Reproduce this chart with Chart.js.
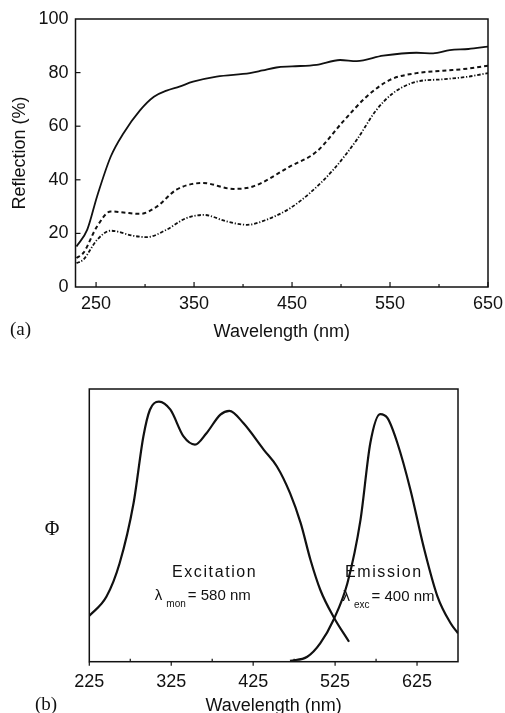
<!DOCTYPE html>
<html>
<head>
<meta charset="utf-8">
<script src="https://cdn.jsdelivr.net/npm/chart.js@4.4.1/dist/chart.umd.min.js"></script>
<style>
  html, body { margin: 0; padding: 0; background: #fff; width: 505px; height: 713px; overflow: hidden; }
  #wrapA { position: absolute; left: 0; top: 0; width: 505px; height: 345px; }
  #wrapB { position: absolute; left: 0; top: 370px; width: 505px; height: 360px; }
</style>
</head>
<body>
<div id="wrapA"><canvas id="chartA" width="505" height="345"></canvas></div>
<div id="wrapB"><canvas id="chartB" width="505" height="360"></canvas></div>
<script>
// ── Data (a): reflection spectra ─────────────────────────────
const solidNm  = [230, 241, 251, 265, 278, 295, 309, 322, 335, 349, 373, 407, 420, 434, 450, 475, 499, 516, 543, 577, 594, 611, 630, 650];
const solidR   = [15.1, 21.4, 33.8, 48.7, 57.4, 66, 71, 73.3, 74.8, 76.6, 78.5, 79.8, 80.8, 81.9, 82.3, 82.9, 84.7, 84.3, 86.3, 87.4, 87.2, 88.4, 88.8, 89.7];

const dashNm   = [230, 237, 251, 265, 278, 295, 312, 332, 359, 390, 410, 448, 475, 502, 526, 550, 577, 604, 630, 650];
const dashR    = [10.8, 12.7, 22.6, 28.2, 27.8, 27.3, 30, 36.3, 38.8, 36.6, 37.5, 45, 50.5, 61.7, 71, 77.3, 79.8, 80.7, 81.5, 82.6];

const dotNm    = [230, 237, 251, 265, 288, 302, 322, 342, 360, 383, 404, 424, 448, 468, 492, 516, 536, 553, 577, 604, 630, 650];
const dotR     = [8.9, 10.2, 17.6, 21, 19.1, 18.6, 21.4, 25.7, 26.9, 24.5, 23.2, 25.1, 29.4, 35, 43.7, 54.9, 66, 72.3, 76.6, 77.5, 78.5, 79.8];

const xTicksA      = [250, 350, 450, 550, 650];
const xMinorTicksA = [300, 400, 500, 600];
const yTicksA      = [0, 20, 40, 60, 80, 100];

// ── Data (b): excitation / emission ──────────────────────────
const excNm  = [225, 246, 262, 279, 291, 299, 310, 324, 340, 354, 368, 385, 396, 413, 438, 454, 470, 483, 495, 507, 523, 542];
const excPhi = [16.8, 23.9, 36.1, 58.1, 82.6, 92.4, 95.4, 92.4, 82.6, 79.6, 83.8, 90.6, 92, 87.5, 77.7, 71.6, 61.8, 50.8, 37.3, 26.3, 16.5, 7.3];

const emNm   = [470, 491, 507, 523, 540, 556, 568, 580, 589, 601, 617, 633, 650, 666, 675];
const emPhi  = [0.3, 1.8, 6.8, 15.3, 28.8, 52, 80.2, 90.8, 89.3, 80.2, 63, 42.2, 23.9, 14.1, 10.4];

const xTicksB      = [225, 325, 425, 525, 625];
const xMinorTicksB = [275, 375, 475, 575];

const pts = (xs, ys) => xs.map((x, i) => ({ x: x, y: ys[i] }));

const SANS  = '"Liberation Sans", Arial, sans-serif';
const SERIF = '"Liberation Serif", "Times New Roman", serif';
const INK   = '#111';

// ── Plugin: box frame + tick marks + loose text ──────────────
const frameTicks = {
  id: 'frameTicks',
  afterDatasetsDraw(chart, args, o) {
    const { ctx, chartArea: a, scales: { x, y } } = chart;
    ctx.save();
    ctx.strokeStyle = INK;
    ctx.lineWidth = 1.5;
    ctx.strokeRect(a.left, a.top, a.right - a.left, a.bottom - a.top);
    ctx.lineWidth = 1.2;
    const seg = (x1, y1, x2, y2) => { ctx.beginPath(); ctx.moveTo(x1, y1); ctx.lineTo(x2, y2); ctx.stroke(); };
    (o.xMajor || []).forEach(v => { const p = x.getPixelForValue(v); seg(p, a.bottom, p, a.bottom + o.xMajorLen); });
    (o.xMinor || []).forEach(v => { const p = x.getPixelForValue(v); seg(p, a.bottom, p, a.bottom + o.xMinorLen); });
    (o.yMajor || []).forEach(v => { const p = y.getPixelForValue(v); seg(a.left, p, a.left + 5, p); });
    ctx.restore();
  },
  afterDraw(chart, args, o) {
    const ctx = chart.ctx;
    ctx.save();
    ctx.fillStyle = INK;
    ctx.textBaseline = 'middle';
    (o.texts || []).forEach(t => {
      ctx.font = t.font;
      ctx.textAlign = t.align || 'left';
      ctx.fillText(t.text, t.x, t.y);
    });
    ctx.restore();
  }
};

// labels inside panel (b)
const lambdaLabels = {
  id: 'lambdaLabels',
  afterDraw(chart) {
    const { ctx, scales: { x, y } } = chart;
    ctx.save();
    ctx.fillStyle = INK;
    ctx.textBaseline = 'alphabetic';

    ctx.font = '16px ' + SANS;
    ctx.letterSpacing = '1.6px';
    ctx.textAlign = 'center';
    ctx.fillText('Excitation', x.getPixelForValue(378), y.getPixelForValue(31));
    ctx.textAlign = 'left';
    ctx.fillText('Emission', x.getPixelForValue(537), y.getPixelForValue(31));
    ctx.letterSpacing = '0px';

    const row = (nm, val, sub, rest) => {
      let px = x.getPixelForValue(nm);
      const py = y.getPixelForValue(val);
      ctx.font = '15px ' + SANS;
      ctx.fillText('λ', px, py);
      px += ctx.measureText('λ').width + 4;
      ctx.font = '10px ' + SANS;
      ctx.fillText(sub, px, py + 7);
      px += ctx.measureText(sub).width + 2;
      ctx.font = '15px ' + SANS;
      ctx.fillText(rest, px, py);
    };
    row(305, 22.5, 'mon', '= 580 nm');
    row(534, 22.2, 'exc', '= 400 nm');
    ctx.restore();
  }
};

Chart.defaults.color = INK;
Chart.defaults.font.family = SANS;

// ── Chart (a) ────────────────────────────────────────────────
new Chart(document.getElementById('chartA'), {
  type: 'line',
  data: {
    datasets: [
      { data: pts(solidNm, solidR), borderColor: INK, borderWidth: 1.8, pointRadius: 0, cubicInterpolationMode: 'monotone' },
      { data: pts(dashNm, dashR), borderColor: INK, borderWidth: 2, borderDash: [4, 3], pointRadius: 0, cubicInterpolationMode: 'monotone' },
      { data: pts(dotNm, dotR), borderColor: INK, borderWidth: 1.8, borderDash: [3.5, 1.8, 1.2, 1.8], pointRadius: 0, cubicInterpolationMode: 'monotone' }
    ]
  },
  options: {
    responsive: false,
    animation: false,
    devicePixelRatio: 1,
    layout: { padding: { top: 19, right: 17, left: 0, bottom: 0 } },
    plugins: {
      legend: { display: false },
      tooltip: { enabled: false },
      frameTicks: {
        xMajor: xTicksA, xMajorLen: -5, xMinor: xMinorTicksA, xMinorLen: -3, yMajor: yTicksA.slice(1, -1),
        texts: [{ text: '(a)', x: 10, y: 330, font: '19px ' + SERIF }]
      }
    },
    scales: {
      x: {
        type: 'linear', min: 229, max: 650,
        afterBuildTicks: s => { s.ticks = xTicksA.map(v => ({ value: v })); },
        afterFit: s => { s.height = 58; s.paddingLeft = 0; s.paddingRight = 0; },
        grid: { display: false, drawTicks: false },
        border: { display: false },
        ticks: { font: { size: 18 }, padding: 6, maxRotation: 0 },
        title: { display: true, text: 'Wavelength (nm)', font: { size: 18 }, padding: { top: 0, bottom: 2 } }
      },
      y: {
        min: 0, max: 100,
        afterBuildTicks: s => { s.ticks = yTicksA.map(v => ({ value: v })); },
        afterFit: s => { s.width = 75.5; s.paddingTop = 0; s.paddingBottom = 0; },
        grid: { display: false, drawTicks: false },
        border: { display: false },
        ticks: { font: { size: 18 }, padding: 7 },
        title: { display: true, text: 'Reflection (%)', font: { size: 18 }, padding: { top: 9, bottom: 0 } }
      }
    }
  },
  plugins: [frameTicks]
});

// ── Chart (b) ────────────────────────────────────────────────
new Chart(document.getElementById('chartB'), {
  type: 'line',
  data: {
    datasets: [
      { data: pts(excNm, excPhi), borderColor: INK, borderWidth: 2.2, pointRadius: 0, cubicInterpolationMode: 'monotone' },
      { data: pts(emNm, emPhi), borderColor: INK, borderWidth: 2.2, pointRadius: 0, cubicInterpolationMode: 'monotone' }
    ]
  },
  options: {
    responsive: false,
    animation: false,
    devicePixelRatio: 1,
    layout: { padding: { top: 19, right: 47, left: 0, bottom: 0 } },
    plugins: {
      legend: { display: false },
      tooltip: { enabled: false },
      frameTicks: {
        xMajor: xTicksB, xMajorLen: 4, xMinor: xMinorTicksB, xMinorLen: -3,
        texts: [
          { text: '(b)', x: 35, y: 335, font: '19px ' + SERIF },
          { text: 'Φ', x: 52, y: 160, font: '20px ' + SERIF, align: 'center' }
        ]
      }
    },
    scales: {
      x: {
        type: 'linear', min: 225, max: 675,
        afterBuildTicks: s => { s.ticks = xTicksB.map(v => ({ value: v })); },
        afterFit: s => { s.height = 68.3; s.paddingLeft = 0; s.paddingRight = 0; },
        grid: { display: false, drawTicks: false },
        border: { display: false },
        ticks: { font: { size: 18 }, padding: 10, maxRotation: 0 },
        title: { display: true, text: 'Wavelength (nm)', font: { size: 18 }, padding: { top: 0, bottom: 13 } }
      },
      y: {
        min: 0, max: 100,
        afterFit: s => { s.width = 89.3; },
        grid: { display: false, drawTicks: false },
        border: { display: false },
        ticks: { display: false }
      }
    }
  },
  plugins: [frameTicks, lambdaLabels]
});
</script>
</body>
</html>
